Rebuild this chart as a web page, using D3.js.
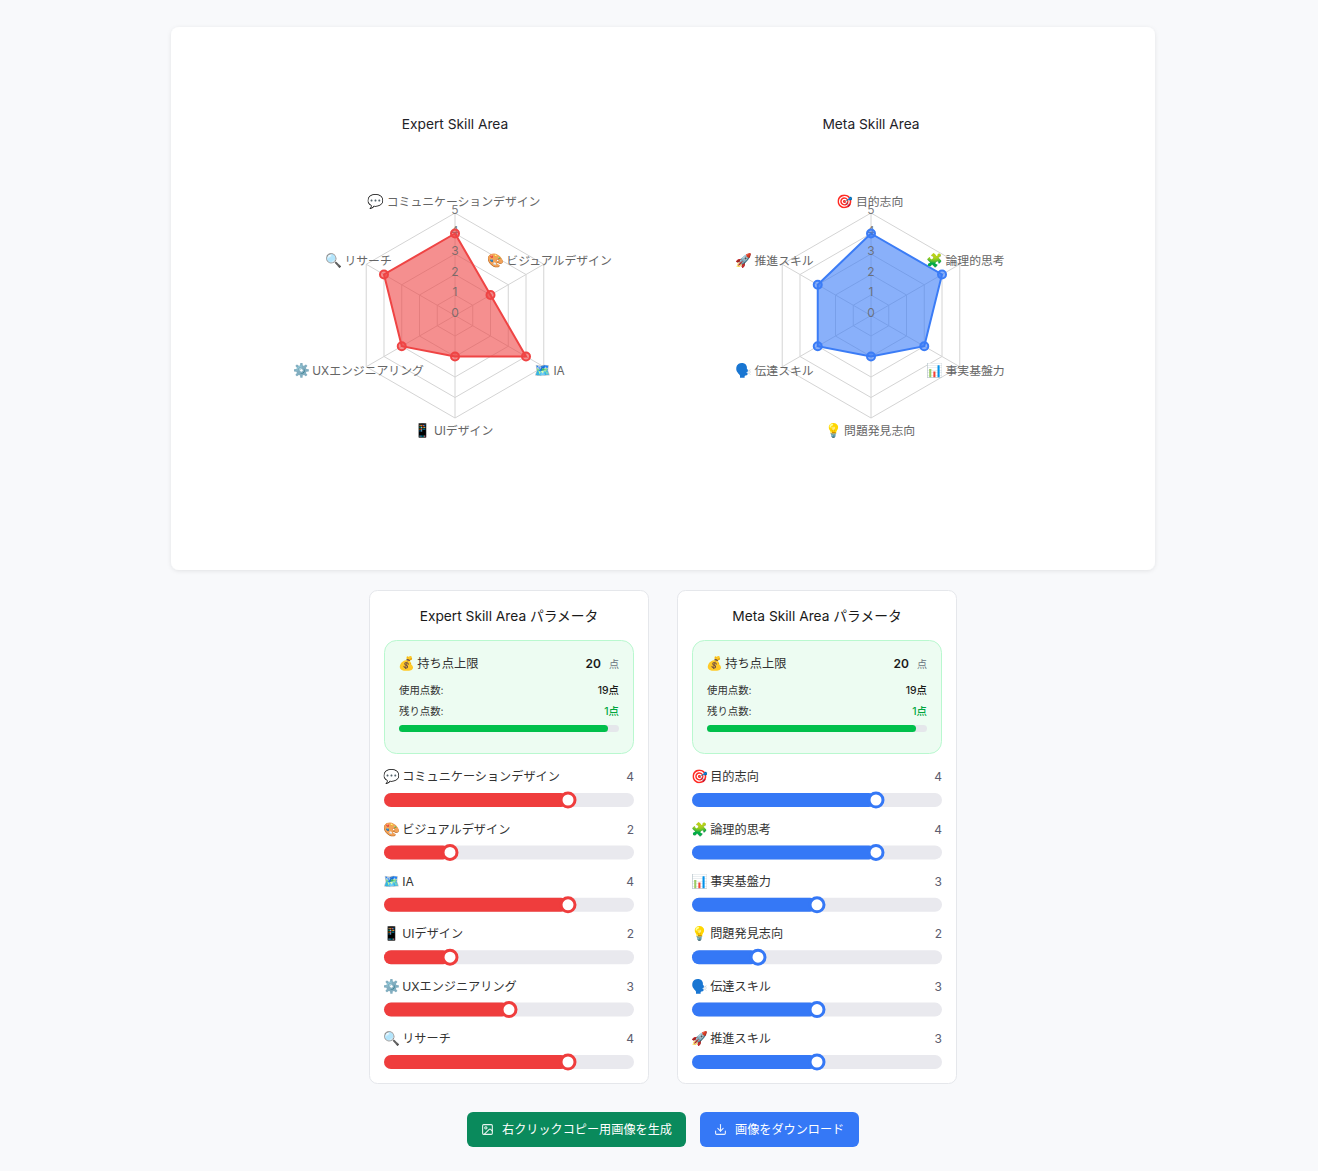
<!DOCTYPE html>
<html lang="ja"><head><meta charset="utf-8">
<script src="https://cdnjs.cloudflare.com/ajax/libs/d3/7.8.5/d3.min.js"></script>
<style>html,body{margin:0;padding:0;background:#f8f9fb}svg{display:block}
text{font-family:Inter,"Noto Sans CJK JP","Noto Color Emoji",sans-serif}</style></head>
<body><svg id="c" width="1318" height="1171"></svg>
<script>
const expertTitle = "Expert Skill Area";
const metaTitle = "Meta Skill Area";
const expertLabels = ["コミュニケーションデザイン","ビジュアルデザイン","IA","UIデザイン","UXエンジニアリング","リサーチ"];
const expertIcons = ["💬","🎨","🗺️","📱","⚙️","🔍"];
const expertValues = [4,2,4,2,3,4];
const metaLabels = ["目的志向","論理的思考","事実基盤力","問題発見志向","伝達スキル","推進スキル"];
const metaIcons = ["🎯","🧩","📊","💡","🗣️","🚀"];
const metaValues = [4,4,3,2,3,3];
const radarTicks = [0,1,2,3,4,5];
const pointLimit = 20;
const usedPoints = 19;
const remainingPoints = 1;
const buttonLabels = ["右クリックコピー用画像を生成","画像をダウンロード"];

const svg = d3.select("#c");
const f = svg.append("defs").append("filter").attr("id","sh").attr("x","-5%").attr("y","-5%").attr("width","110%").attr("height","110%");
f.append("feDropShadow").attr("dx",0).attr("dy",1).attr("stdDeviation",2).attr("flood-color","#000").attr("flood-opacity",0.09);
svg.append("rect").attr("x",171).attr("y",27).attr("width",984).attr("height",543).attr("rx",8).attr("fill","#fff").attr("filter","url(#sh)");

function iconText(sel, icon, label, iconSize){
  sel.append("tspan").attr("font-size",iconSize).attr("dx",-1).text(icon);
  sel.append("tspan").attr("dx",-1).text(" "+label);
  return sel;
}

function radar(cx, title, labels, icons, values, color, fill){
  const cy = 315.5, g = svg.append("g");
  const r = d3.scaleLinear().domain([0,5]).range([0,102.5]);
  const ang = d3.scaleLinear().domain([0,labels.length]).range([0,2*Math.PI]);
  const idx = d3.range(labels.length);
  const pt = (i,v)=>[cx+r(v)*Math.sin(ang(i)), cy-r(v)*Math.cos(ang(i))];
  const closed = d3.line().curve(d3.curveLinearClosed);
  g.append("text").attr("x",cx).attr("y",129).attr("text-anchor","middle").attr("font-size",13.75).attr("fill","#1f2328").text(title);
  radarTicks.slice(1).forEach(t=>{
    g.append("path").attr("d",closed(idx.map(i=>pt(i,t)))).attr("fill","none").attr("stroke","#d4d4d4").attr("stroke-width",1);
  });
  idx.forEach(i=>{ const p=pt(i,5); g.append("line").attr("x1",cx).attr("y1",cy).attr("x2",p[0]).attr("y2",p[1]).attr("stroke","#d4d4d4"); });
  g.append("path").attr("d",closed(values.map((v,i)=>pt(i,v)))).attr("fill",fill).attr("stroke",color).attr("stroke-width",2);
  radarTicks.forEach(t=>{
    g.append("text").attr("x",cx).attr("y",cy-r(t)+1.2).attr("text-anchor","middle").attr("font-size",12).attr("fill","#666").attr("fill-opacity",0.85).text(t);
  });
  values.forEach((v,i)=>{ const p=pt(i,v);
    g.append("circle").attr("cx",p[0]).attr("cy",p[1]).attr("r",4).attr("fill",fill).attr("stroke",color).attr("stroke-width",2);
  });
  const labelY = d3.scaleOrdinal().domain(idx).range([205.5,264.5,374.5,434.5,374.5,264.5]);
  labels.forEach((l,i)=>{
    const sx = Math.sin(ang(i));
    const x = cx + (Math.abs(sx)<0.01 ? 0 : (sx>0 ? 95.5 : -95.5));
    iconText(g.append("text").attr("x",x).attr("y",labelY(i)).attr("text-anchor","middle").attr("font-size",11.85).attr("fill","#666"), icons[i], l, 13.5);
  });
}
radar(455, expertTitle, expertLabels, expertIcons, expertValues, "#ef4444", "rgba(239,68,68,0.6)");
radar(871, metaTitle, metaLabels, metaIcons, metaValues, "#3b7cf6", "rgba(59,124,246,0.6)");

function panel(x, title, labels, icons, values, color){
  const g = svg.append("g").attr("transform",`translate(${x},0)`);
  g.append("rect").attr("x",0.5).attr("y",590.5).attr("width",279).attr("height",493).attr("rx",8).attr("fill","#fff").attr("stroke","#e5e7eb");
  g.append("text").attr("x",140).attr("y",621).attr("text-anchor","middle").attr("font-size",13.75).attr("fill","#1a1a1a").text(title+" パラメータ");
  g.append("rect").attr("x",15.5).attr("y",640.5).attr("width",249).attr("height",113).attr("rx",12).attr("fill","#edfcf2").attr("stroke","#b9f8cf");
  iconText(g.append("text").attr("x",30).attr("y",668).attr("font-size",12.25).attr("fill","#333"), "💰", "持ち点上限", 13.5);
  g.append("text").attr("x",232).attr("y",668).attr("text-anchor","end").attr("font-size",12).attr("font-weight",600).attr("fill","#1a1a1a").text(pointLimit);
  g.append("text").attr("x",250).attr("y",668).attr("text-anchor","end").attr("font-size",10).attr("fill","#6b7280").text("点");
  g.append("text").attr("x",30).attr("y",694).attr("font-size",10.4).attr("fill","#333").text("使用点数:");
  g.append("text").attr("x",250).attr("y",694).attr("text-anchor","end").attr("font-size",10.4).attr("font-weight",500).attr("fill","#1a1a1a").text(usedPoints+"点");
  g.append("text").attr("x",30).attr("y",715).attr("font-size",10.4).attr("fill","#333").text("残り点数:");
  g.append("text").attr("x",250).attr("y",715).attr("text-anchor","end").attr("font-size",10.4).attr("font-weight",500).attr("fill","#00a63e").text(remainingPoints+"点");
  const px = d3.scaleLinear().domain([0,pointLimit]).range([30,250]);
  g.append("rect").attr("x",30).attr("y",725).attr("width",220).attr("height",7).attr("rx",3.5).attr("fill","#e5e7eb");
  g.append("rect").attr("x",30).attr("y",725).attr("width",px(usedPoints)-30).attr("height",7).attr("rx",3.5).attr("fill","#00c04b");
  const sx = d3.scaleLinear().domain([1,5]).range([22,258]);
  const ry = d3.scaleLinear().domain([0,5]).range([800,1062]);
  values.forEach((v,i)=>{
    const cy = ry(i);
    iconText(g.append("text").attr("x",15).attr("y",cy-18.8).attr("font-size",12.15).attr("fill","#333"), icons[i], labels[i], 13.5);
    g.append("text").attr("x",265).attr("y",cy-18.8).attr("text-anchor","end").attr("font-size",12).attr("fill","#5d5d6e").text(v);
    g.append("rect").attr("x",15).attr("y",cy-7).attr("width",250).attr("height",14).attr("rx",7).attr("fill","#e9e9ee");
    g.append("rect").attr("x",15).attr("y",cy-7).attr("width",sx(v)-15).attr("height",14).attr("rx",7).attr("fill",color);
    g.append("circle").attr("cx",sx(v)).attr("cy",cy).attr("r",7).attr("fill","#fff").attr("stroke",color).attr("stroke-width",3);
  });
}
panel(369, expertTitle, expertLabels, expertIcons, expertValues, "#ef3d3d");
panel(677, metaTitle, metaLabels, metaIcons, metaValues, "#3578f6");

function button(x,w,fill,label,icon,tx){
  const g = svg.append("g");
  g.append("rect").attr("x",x).attr("y",1112).attr("width",w).attr("height",35).attr("rx",6).attr("fill",fill);
  const ic = g.append("g").attr("transform",`translate(${x+14},1123) scale(0.54)`).attr("fill","none").attr("stroke","#fff").attr("stroke-width",2).attr("stroke-linecap","round").attr("stroke-linejoin","round").attr("opacity",0.9);
  icon.forEach(d=>ic.append("path").attr("d",d));
  g.append("text").attr("x",tx).attr("y",1133.5).attr("font-size",12.15).attr("font-weight",400).attr("fill","#fff").text(label);
}
button(467,219,"#0a8a5c",buttonLabels[0],["M5 3h14a2 2 0 0 1 2 2v14a2 2 0 0 1-2 2H5a2 2 0 0 1-2-2V5a2 2 0 0 1 2-2z","M9 7a2 2 0 1 1-.01 0z","M21 15l-3.1-3.1a2 2 0 0 0-2.8 0L6 21"],502);
button(700,159,"#3578f6",buttonLabels[1],["M21 15v4a2 2 0 0 1-2 2H5a2 2 0 0 1-2-2v-4","M7 10l5 5 5-5","M12 15V3"],735);
</script></body></html>
